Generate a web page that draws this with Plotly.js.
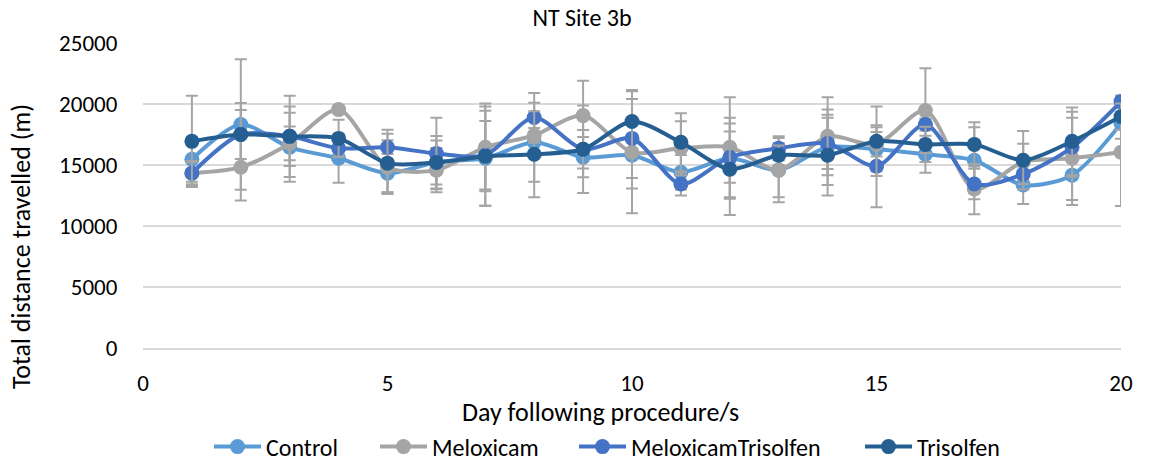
<!DOCTYPE html>
<html>
<head>
<meta charset="utf-8">
<script src="https://cdn.plot.ly/plotly-3.0.1.min.js"></script>
<style>html,body{margin:0;padding:0;background:#fff;}#chart{width:1164px;height:461px;}</style>
</head>
<body>
<div id="chart"></div>
<script>
const days = [1,2,3,4,5,6,7,8,9,10,11,12,13,14,15,16,17,18,19,20];
const seriesNames = ["Control","Meloxicam","MeloxicamTrisolfen","Trisolfen"];
const control = [15470,18320,16450,15550,14330,15230,15550,16860,15640,15800,14410,15550,14580,16450,16290,15880,15390,13360,14170,18410];
const controlErr = [1850,5350,2830,2010,1570,2150,3900,3240,1650,2720,1410,3320,2230,3090,1800,1520,2710,1550,2040,1260];
const meloxicam = [14330,14820,16770,19540,14820,14580,16450,17430,19050,16040,16370,16450,14580,17350,16700,19460,13030,15250,15550,16040];
const meloxicamErr = [1000,2740,1380,300,2200,1820,3600,600,2850,5000,2220,4100,2640,3200,1000,3480,2060,1500,3820,4400];
const melTris = [14330,17500,17350,16370,16450,15940,15800,18890,16290,17180,13440,15640,16370,16770,14900,18320,13440,14250,16450,20200];
const melTrisErr = [900,2590,2440,500,1440,2930,2800,2010,1580,3240,950,2100,980,2100,3360,500,1250,800,2420,500];
const trisolfen = [16940,17500,17350,17180,15150,15200,15720,15880,16290,18570,16860,14660,15800,15800,16940,16690,16690,15390,16940,18970];
const trisolfenErr = [3740,2000,3330,1520,2410,1800,4070,3530,3580,2580,2380,3750,800,3310,2850,1440,1820,2390,2780,1080];
const colors = ["#5B9BD5","#A5A5A5","#4472C4","#255E91"];
const chartTitle = "NT Site 3b";
const xTitle = "Day following procedure/s";
const yTitle = "Total distance travelled (m)";

const ys = [control, meloxicam, melTris, trisolfen];
const errs = [controlErr, meloxicamErr, melTrisErr, trisolfenErr];
const font = "Carlito, Calibri, 'Liberation Sans Narrow', sans-serif";
const legendIds = ["legend","legend2","legend3","legend4"];
const legendCentres = [234, 400, 599, 885];

const traces = seriesNames.map((n,i)=>({
  x: days, y: ys[i], name: n, type: "scatter", mode: "lines+markers",
  legend: legendIds[i],
  line: {color: colors[i], width: 4, shape: "spline", smoothing: 0.8},
  marker: {color: colors[i], size: 15},
  error_y: {type: "data", array: errs[i], visible: true, color: "#A5A5A5", thickness: 2, width: 6}
}));

const L = 143, R = 43, T = 43, B = 113, W = 1164, H = 461;
const plotW = W - L - R, plotH = H - T - B;

const layout = {
  width: W, height: H,
  margin: {l: L, r: R, t: T, b: B, autoexpand: false},
  paper_bgcolor: "#fff", plot_bgcolor: "#fff",
  font: {family: font, size: 23, color: "#000"},
  title: {text: chartTitle, x: 0.5, xanchor: "center", xref: "container", yref: "container", y: (H - 18) / H, yanchor: "middle", font: {family: font, size: 24, color: "#000"}},
  xaxis: {range: [0, 20], tickvals: [0,5,10,15,20], ticktext: ["0","5","10","15","20"],
    showgrid: false, zeroline: false, showline: true, linecolor: "#D9D9D9", linewidth: 2,
    ticks: "outside", ticklen: 13, tickcolor: "rgba(0,0,0,0)", tickfont: {family: font, size: 23, color: "#000"}},
  yaxis: {range: [0, 25000], tickvals: [0,5000,10000,15000,20000,25000], ticktext: ["0","5000","10000","15000","20000","25000"],
    showgrid: true, gridcolor: "#D9D9D9", gridwidth: 2, zeroline: false, showline: false,
    ticks: "outside", ticklen: 20, tickcolor: "rgba(0,0,0,0)", tickfont: {family: font, size: 23, color: "#000"}},
  annotations: [
    {text: xTitle, xref: "paper", yref: "paper", x: (600 - L) / plotW, y: (T + plotH - 412) / plotH,
     xanchor: "center", yanchor: "middle", showarrow: false, font: {family: font, size: 26, color: "#000"}},
    {text: yTitle, xref: "paper", yref: "paper", x: (21 - L) / plotW, y: (T + plotH - 247) / plotH,
     xanchor: "center", yanchor: "middle", textangle: -90, showarrow: false, font: {family: font, size: 26, color: "#000"}}
  ],
  showlegend: true
};
legendIds.forEach((id,i)=>{
  layout[id] = {orientation: "h", x: (legendCentres[i] - 25 - L) / plotW, xanchor: "left",
    y: (T + plotH - 447) / plotH, yanchor: "middle", bgcolor: "rgba(0,0,0,0)",
    font: {family: font, size: 24, color: "#000"}, itemwidth: 47};
});
Plotly.newPlot("chart", traces, layout, {displayModeBar: false, staticPlot: true});
</script>
</body>
</html>
